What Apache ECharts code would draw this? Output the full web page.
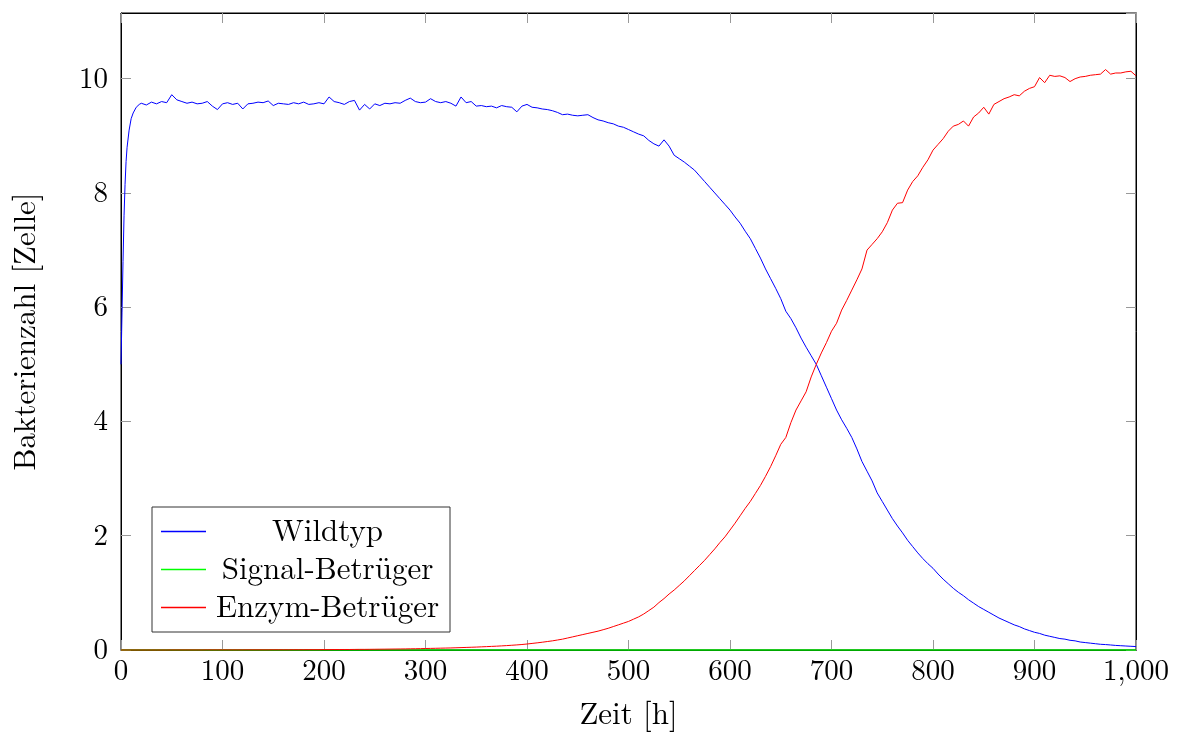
<!DOCTYPE html>
<html>
<head>
<meta charset="utf-8">
<script src="https://cdn.jsdelivr.net/npm/echarts@6/dist/echarts.min.js"></script>
<style>html,body{margin:0;padding:0;background:#fff;}#c{width:1182px;height:736px;}</style>
</head>
<body>
<div id="c"></div>
<script>
// Zeit [h]
const zeit = [0,1,2,3,4,5,6,8,10,12,15,18,20,
25,30,35,40,45,50,55,60,65,70,75,80,85,90,95,100,
105,110,115,120,125,130,135,140,145,150,155,160,165,170,175,180,185,190,195,200,
205,210,215,220,225,230,235,240,245,250,255,260,265,270,275,280,285,290,295,300,
305,310,315,320,325,330,335,340,345,350,355,360,365,370,375,380,385,390,395,400,
405,410,415,420,425,430,435,440,445,450,455,460,465,470,475,480,485,490,495,500,
505,510,515,520,525,530,535,540,545,550,555,560,565,570,575,580,585,590,595,600,
605,610,615,620,625,630,635,640,645,650,655,660,665,670,675,680,685,690,695,700,
705,710,715,720,725,730,735,740,745,750,755,760,765,770,775,780,785,790,795,800,
805,810,815,820,825,830,835,840,845,850,855,860,865,870,875,880,885,890,895,900,
905,910,915,920,925,930,935,940,945,950,955,960,965,970,975,980,985,990,995,1000];

const wildtyp = [5.0,5.9,6.8,7.6,8.15,8.55,8.8,9.1,9.3,9.4,9.5,9.55,9.57,
9.54,9.59,9.56,9.6,9.58,9.72,9.63,9.6,9.57,9.59,9.56,9.57,9.6,9.52,9.46,9.56,
9.58,9.55,9.57,9.47,9.56,9.57,9.59,9.58,9.61,9.53,9.57,9.56,9.55,9.58,9.56,9.59,9.55,9.56,9.58,9.56,
9.68,9.6,9.58,9.55,9.6,9.62,9.45,9.55,9.47,9.56,9.53,9.57,9.56,9.58,9.57,9.62,9.66,9.6,9.58,9.59,
9.65,9.6,9.58,9.6,9.57,9.52,9.68,9.58,9.6,9.52,9.53,9.51,9.52,9.49,9.53,9.51,9.5,9.42,9.52,9.55,
9.5,9.49,9.47,9.46,9.44,9.41,9.37,9.38,9.36,9.35,9.36,9.37,9.32,9.28,9.26,9.23,9.21,9.17,9.15,9.11,
9.07,9.03,9.0,8.92,8.86,8.82,8.93,8.82,8.66,8.6,8.54,8.47,8.4,8.3,8.2,8.1,8.0,7.9,7.8,7.7,
7.58,7.47,7.33,7.2,7.03,6.86,6.67,6.5,6.33,6.15,5.93,5.8,5.64,5.46,5.3,5.15,5.0,4.8,4.6,4.4,
4.2,4.03,3.88,3.72,3.52,3.3,3.13,2.96,2.75,2.6,2.45,2.3,2.17,2.05,1.92,1.81,1.7,1.6,1.51,1.43,
1.33,1.24,1.16,1.08,1.01,0.95,0.88,0.82,0.76,0.71,0.66,0.61,0.56,0.52,0.48,0.44,0.41,0.37,0.34,0.31,
0.29,0.26,0.24,0.22,0.2,0.19,0.17,0.16,0.14,0.13,0.12,0.11,0.1,0.095,0.088,0.08,0.075,0.07,0.065,0.06];

const enzymBetrueger = [0,0,0,0,0,0,0,0,0,0,0,0,0,
0,0,0,0,0,0.001,0.001,0.001,0.001,0.001,0.001,0.001,0.002,0.002,0.002,0.002,
0.002,0.002,0.002,0.002,0.003,0.003,0.003,0.003,0.003,0.004,0.004,0.004,0.004,0.005,0.005,0.005,0.006,0.006,0.006,0.007,
0.007,0.008,0.008,0.009,0.009,0.01,0.011,0.011,0.012,0.013,0.014,0.015,0.016,0.017,0.018,0.019,0.021,0.022,0.024,0.026,
0.028,0.03,0.032,0.034,0.036,0.039,0.042,0.045,0.048,0.051,0.055,0.059,0.063,0.067,0.072,0.077,0.083,0.089,0.096,0.105,
0.115,0.125,0.136,0.148,0.16,0.175,0.19,0.21,0.23,0.25,0.27,0.29,0.31,0.33,0.355,0.38,0.41,0.44,0.47,0.5,
0.54,0.58,0.63,0.69,0.75,0.83,0.9,0.98,1.05,1.13,1.21,1.3,1.39,1.48,1.57,1.67,1.77,1.88,1.98,2.1,
2.22,2.35,2.48,2.6,2.74,2.88,3.04,3.21,3.4,3.6,3.72,3.98,4.2,4.36,4.52,4.78,5.0,5.2,5.38,5.58,
5.72,5.95,6.12,6.3,6.48,6.67,7.0,7.1,7.2,7.32,7.48,7.7,7.82,7.83,8.05,8.2,8.3,8.45,8.58,8.75,
8.85,8.95,9.08,9.17,9.2,9.26,9.17,9.33,9.4,9.5,9.38,9.55,9.6,9.65,9.68,9.72,9.7,9.78,9.83,9.86,
10.02,9.93,10.06,10.04,10.05,10.02,9.95,10.0,10.03,10.04,10.06,10.07,10.08,10.16,10.08,10.1,10.1,10.12,10.13,10.05];

const signalZeit = [0,250,500,750,1000];
const signalBetrueger = [0,0,0,0,0];

const xTicks = [0,100,200,300,400,500,600,700,800,900,1000];
const yTicks = [0,2,4,6,8,10];

const FONT = '"Latin Modern Roman","CMU Serif","Liberation Serif","DejaVu Serif",serif';
const pairs = (xs, ys) => xs.map((x, i) => [x, ys[i]]);

const chart = echarts.init(document.getElementById('c'), null, {renderer: 'canvas'});
const tickStyle = {show: true, inside: true, length: 10, lineStyle: {color: '#999', width: 1}};
const lineAx = {show: true, onZero: false, lineStyle: {color: '#000', width: 1}};

chart.setOption({
  animation: false,
  backgroundColor: '#fff',
  grid: {left: 121, right: 46, top: 13, bottom: 86, containLabel: false,
    show: true, borderColor: '#000', borderWidth: 1, backgroundColor: 'transparent'},
  xAxis: [{
    type: 'value', min: 0, max: 1000, interval: 100, position: 'bottom', gridIndex: 0,
    name: 'Zeit [h]', nameLocation: 'middle', nameGap: 49,
    nameTextStyle: {fontFamily: FONT, fontSize: 31, color: '#000'},
    axisLine: lineAx, axisTick: tickStyle, splitLine: {show: false},
    axisLabel: {fontFamily: FONT, fontSize: 29, color: '#000', margin: 7,
      formatter: v => xTicks.includes(v) ? v.toLocaleString('en-US') : ''}
  }, {
    type: 'value', min: 0, max: 1000, interval: 100, position: 'top', gridIndex: 0, show: true,
    axisLine: lineAx, axisTick: tickStyle, axisLabel: {show: false}, splitLine: {show: false}
  }],
  yAxis: [{
    type: 'value', min: 0, max: 11.15, interval: 2, position: 'left', gridIndex: 0,
    name: 'Bakterienzahl [Zelle]', nameLocation: 'middle', nameGap: 80,
    nameTextStyle: {fontFamily: FONT, fontSize: 31, color: '#000'},
    axisLine: lineAx, axisTick: tickStyle, splitLine: {show: false},
    axisLabel: {fontFamily: FONT, fontSize: 29, color: '#000', margin: 13, showMaxLabel: false,
      formatter: v => yTicks.includes(v) ? String(v) : ''}
  }, {
    type: 'value', min: 0, max: 11.15, interval: 2, position: 'right', gridIndex: 0, show: true,
    axisLine: lineAx, axisTick: tickStyle, axisLabel: {show: false}, splitLine: {show: false}
  }],
  legend: {
    orient: 'vertical', left: 152, top: 507,
    backgroundColor: '#fff', borderColor: '#333', borderWidth: 1, borderRadius: 0,
    padding: [9, 6, 9, 9], itemGap: 7, itemWidth: 45, itemHeight: 1.5, icon: 'rect',
    data: ['Wildtyp', 'Signal-Betrüger', 'Enzym-Betrüger'],
    formatter: n => '{c|' + n + '}',
    textStyle: {fontFamily: FONT, fontSize: 31, color: '#000',
      rich: {c: {width: 233, align: 'center', lineHeight: 30, fontFamily: FONT, fontSize: 31, color: '#000'}}}
  },
  series: [{
    name: 'Wildtyp', type: 'line', data: pairs(zeit, wildtyp), showSymbol: false, clip: false,
    color: '#0000ff', lineStyle: {color: '#0000ff', width: 1}, z: 2
  }, {
    name: 'Signal-Betrüger', type: 'line', data: pairs(signalZeit, signalBetrueger), showSymbol: false, clip: false,
    color: '#00ff00', lineStyle: {color: '#00e000', width: 1.3}, z: 3
  }, {
    name: 'Enzym-Betrüger', type: 'line', data: pairs(zeit, enzymBetrueger), showSymbol: false, clip: false,
    color: '#ff0000', lineStyle: {color: '#ff0000', width: 1}, z: 4
  }, {
    name: 'mirror', type: 'line', xAxisIndex: 1, yAxisIndex: 1, data: [], showSymbol: false, silent: true
  }]
});
</script>
</body>
</html>
